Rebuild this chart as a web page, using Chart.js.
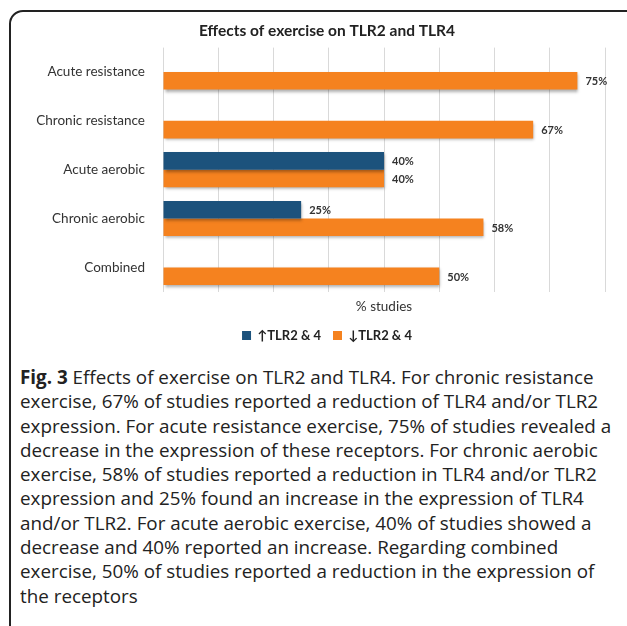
<!DOCTYPE html>
<html>
<head>
<meta charset="utf-8">
<script src="https://cdn.jsdelivr.net/npm/chart.js@4"></script>
<style>
  html, body { margin: 0; padding: 0; background: #fff; overflow: hidden; width: 627px; height: 626px; }
  #frame { position: absolute; left: 9px; top: 10px; width: 640px; height: 640px; border: 2px solid #222; border-radius: 14px; box-sizing: border-box; }
  #wrap { position: absolute; left: 10px; top: 12px; width: 634px; height: 340px; }
  #caption { position: absolute; left: 20px; top: 365px; width: 640px; font-family: "Open Sans", sans-serif; font-size: 19px; line-height: 24.3px; color: #222; transform-origin: 0 0; transform: scaleX(0.99); white-space: nowrap; }
  #caption b { font-weight: 700; }
</style>
</head>
<body>
<div id="frame"></div>
<div id="wrap"><canvas id="c"></canvas></div>
<div id="caption"><b>Fig. 3</b> Effects of exercise on TLR2 and TLR4. For chronic resistance<br>exercise, 67% of studies reported a reduction of TLR4 and/or TLR2<br>expression. For acute resistance exercise, 75% of studies revealed a<br>decrease in the expression of these receptors. For chronic aerobic<br>exercise, 58% of studies reported a reduction in TLR4 and/or TLR2<br>expression and 25% found an increase in the expression of TLR4<br>and/or TLR2. For acute aerobic exercise, 40% of studies showed a<br>decrease and 40% reported an increase. Regarding combined<br>exercise, 50% of studies reported a reduction in the expression of<br>the receptors</div>
<script>
const categories = ["Acute resistance", "Chronic resistance", "Acute aerobic", "Chronic aerobic", "Combined"];
const seriesNames = ["\u2191TLR2 & 4", "\u2193TLR2 & 4"];
const increaseValues = [null, null, 40, 25, null];
const decreaseValues = [75, 67, 40, 58, 50];
const chartTitle = "Effects of exercise on TLR2 and TLR4";
const xAxisTitle = "% studies";

const FONT = "Lato, 'Open Sans', sans-serif";

const barLabels = {
  id: 'barLabels',
  afterDatasetsDraw(chart) {
    const ctx = chart.ctx;
    ctx.save();
    ctx.font = "bold 11px " + FONT;
    ctx.fillStyle = "#333";
    ctx.textAlign = "left";
    ctx.textBaseline = "middle";
    chart.data.datasets.forEach((ds, i) => {
      const meta = chart.getDatasetMeta(i);
      meta.data.forEach((el, j) => {
        const v = ds.data[j];
        if (v === null || v === undefined) return;
        ctx.fillText(v + "%", el.x + 8, el.y + 1);
      });
    });
    ctx.restore();
  }
};

const barShadow = {
  id: 'barShadow',
  beforeDatasetDraw(chart) {
    const ctx = chart.ctx;
    ctx.save();
    ctx.shadowColor = "rgba(0,0,0,0.35)";
    ctx.shadowBlur = 3;
    ctx.shadowOffsetX = 1;
    ctx.shadowOffsetY = 2;
  },
  afterDatasetDraw(chart) {
    chart.ctx.restore();
  }
};

new Chart(document.getElementById('c'), {
  type: 'bar',
  data: {
    labels: categories,
    datasets: [
      { label: seriesNames[0], data: increaseValues, backgroundColor: "#1c527c", borderWidth: 0 },
      { label: seriesNames[1], data: decreaseValues, backgroundColor: "#f5821f", borderWidth: 0 }
    ]
  },
  options: {
    indexAxis: 'y',
    responsive: true,
    maintainAspectRatio: false,
    animation: false,
    skipNull: false,
    datasets: { bar: { categoryPercentage: 0.72, barPercentage: 1.0 } },
    layout: { padding: { left: 39, right: 39, top: 0, bottom: 0 } },
    plugins: {
      title: { display: true, text: chartTitle, color: "#222", font: { family: FONT, size: 15.5, weight: 'bold' }, padding: { top: 10, bottom: 7 } },
      legend: {
        position: 'bottom',
        labels: { color: "#222", font: { family: FONT, size: 13, weight: 'bold' }, boxWidth: 9, boxHeight: 9, padding: 12 }
      },
      tooltip: { enabled: false }
    },
    scales: {
      x: {
        min: 0, max: 80,
        ticks: { display: false, stepSize: 10 },
        grid: { color: "#d9d9d9", drawTicks: false },
        border: { display: false },
        title: { display: true, text: xAxisTitle, color: "#333", font: { family: FONT, size: 13.5 }, padding: { top: 7, bottom: 2 } }
      },
      y: {
        ticks: { color: "#333", font: { family: FONT, size: 13.5 }, padding: 10 },
        grid: { display: false },
        border: { display: false },
        afterFit(scale) {
          scale.width = 114;
          // let the long category labels extend past the narrowed axis box
          scale._computeLabelArea = function () { return undefined; };
        }
      }
    }
  },
  plugins: [barShadow, barLabels]
});
</script>
</body>
</html>
